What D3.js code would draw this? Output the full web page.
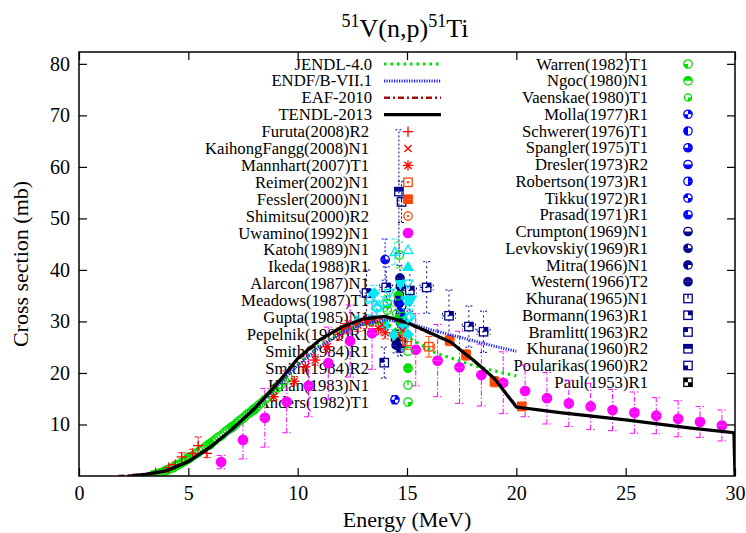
<!DOCTYPE html>
<html><head><meta charset="utf-8">
<script src="https://cdn.jsdelivr.net/npm/d3@7"></script>
<style>body{margin:0;background:#fff} svg text{font-family:"Liberation Serif","Times New Roman",Times,serif !important;fill:#000}</style>
</head><body><svg id="c" width="746" height="533" font-family="Liberation Serif, Times New Roman, serif"></svg>
<script>
// ---------- evaluated curves [E (MeV), sigma (mb)] ----------
const tendl = [[2.3,0],[3,0.3],[4,1.0],[5,2.8],[6,5.6],[7,9.1],[8,13.0],[9,17.6],[10,22.8],[11,26.4],[12,28.9],[13,30.5],[14,31.0],[15,29.8],[16,27.9],[17,26.0],[17.7,23.6],[18,22.6],[19,18.9],[20,13.4],[22,12.3],[25,10.9],[28,9.3],[29.95,8.4],[30,0]];
const jendl = [[3.2,0.2],[4,1.0],[5,2.9],[6,5.8],[7,9.0],[8,12.8],[9,17.0],[10,21.6],[11,25.4],[12,28.0],[13,29.4],[14,29.8],[15,27.0],[16.3,23.9],[18,21.5],[19,20.4],[20,19.4]];
const endf = [[2.5,0],[3,0.3],[4,1.1],[5,2.8],[6,5.6],[7,9.0],[8,12.9],[9,17.2],[10,21.5],[11,25.0],[12,27.8],[13,29.5],[14,30.3],[15,29.8],[16,28.5],[17,27.4],[18,26.3],[19,25.2],[20,24.2]];
const eaf = [[1.8,0],[2.2,0.1],[3,0.35],[4,1.1],[5,2.9],[6,5.7],[7,9.1],[8,13.0],[9,17.5],[10,22.5],[11,26.2],[12,28.8],[13,30.3],[14,30.8],[15,29.6],[16,27.8],[17,25.9],[18,22.7],[19,18.9],[20,13.6]];

// ---------- experimental data [E, sigma, dSigma, dE] ----------
const furuta = [[3.5,0.6,0.3],[4.1,1.6,0.4],[4.4,2.2,0.5],[4.7,3.7,0.8],[5.2,4.4,0.8],[5.45,5.9,1.7],[5.85,4.4,0.8]];
const kaihong = [[13.85,29.4,1.0],[14.8,28.2,1.0]];
const mannhart = [[8.9,15.4,0.8],[9.85,18.4,0.9],[10.35,21.2,1.0],[10.8,22.5,1.0],[11.35,25.1,1.1],[11.9,27.5,1.2],[12.1,28.6,1.0],[12.3,29.0,1.2],[12.75,29.3,1.2],[13.15,29.8,1.2],[13.45,30.1,1.0],[13.7,28.6,1.2],[14.0,27.8,1.2]];
const reimer = [[15.0,26.1,1.5,0.2],[16.0,25.1,2.0,0.25]];
const fessler = [[16.95,26.3,1.0],[17.7,23.5,1.0],[19.0,18.3,1.0],[20.25,13.5,0.8]];
const shimitsu = [[14.8,27.4,1.0]];
const uwamino = [[6.5,2.7,1.3],[7.5,7.0,3.7],[8.5,11.3,5.7],[9.5,14.4,6.0],[10.5,17.5,6.0],[11.4,21.9,7.0],[12.4,26.2,7.0],[13.4,27.7,7.0],[15.4,24.5,7.0],[16.4,22.4,7.0],[17.4,21.1,7.0],[18.4,19.6,6.0],[19.4,18.1,6.0],[20.4,16.5,5.0],[21.4,15.1,5.0],[22.4,14.1,4.5],[23.4,13.5,4.5],[24.4,12.8,4.0],[25.4,12.3,4.0],[26.4,11.7,3.5],[27.4,11.1,3.5],[28.4,10.5,3.0],[29.4,9.8,3.0]];
const katoh = [[13.3,34.5,1.0],[13.65,32.9,1.0],[13.95,33.8,1.0],[14.45,43.5,2.5]];
const ikeda = [[12.7,30.0,1.0],[13.3,30.3,1.0],[14.0,29.5,1.0]];
const alarcon = [[14.95,34.0,1.5],[14.2,35.5,1.5]];
const meadows = [[14.7,37.2,1.5],[15.2,34.2,1.2]];
const gupta = [[15.15,30.9,1.5],[13.6,32.6,1.5]];
const pepelnik = [[14.0,29.3,1.0],[14.4,27.4,1.0],[14.85,29.0,1.0],[13.5,35.5,1.5]];
const smith1 = [[3.40,0.2],[3.50,0.3],[3.60,0.4],[3.70,0.6],[3.80,0.7],[3.90,0.9],[4.00,1.1],[4.10,1.3],[4.20,1.5],[4.30,1.6],[4.40,1.9],[4.50,2.1],[4.60,2.3],[4.70,2.6],[4.80,2.8],[4.90,3.1],[5.00,3.3],[5.10,3.6],[5.20,3.9],[5.30,4.2],[5.40,4.4],[5.50,4.8],[5.60,5.1],[5.70,5.3],[5.80,5.7],[5.90,6.0],[6.00,6.3],[6.10,6.6],[6.20,6.9],[6.30,7.3],[6.40,7.6],[6.50,7.8],[6.60,8.2],[6.70,8.6],[6.80,8.9],[6.90,9.2],[7.00,9.6],[7.10,9.8],[7.20,10.2],[7.30,10.6],[7.40,10.9],[7.50,11.2],[7.60,11.6],[7.70,12.0],[7.80,12.2],[7.90,12.6],[8.00,13.0],[8.10,13.3],[8.20,13.7],[8.35,14.2],[8.50,14.8],[8.65,15.3],[8.80,15.9],[8.95,16.6],[9.10,17.2],[9.25,17.8],[9.40,18.5],[9.55,19.2]];
const smith2 = [[5.0,3.6],[6.0,6.1],[7.0,9.4],[8.0,12.8]];
const khan = [[14.65,42.9,2.5],[14.1,32.2,2.0]];
const anders = [[14.1,33.5,1.5],[14.8,31.0,1.5]];
const warren = [[14.7,30.0,1.5]];
const ngoc = [[14.6,35.0,1.5]];
const vaenskae = [[14.5,31.5,1.5]];
const molla = [[14.45,14.8,0.8]];
const schwerer = [[14.75,32.9,1.5]];
const spangler = [[14.7,31.5,1.5]];
const dresler = [[14.8,30.5,1.5]];
const robertson = [[14.6,33.8,1.5]];
const tikku = [[14.7,29.8,1.5]];
const prasad = [[14.0,42.0,4.0]];
const crumpton = [[14.7,36.8,2.0]];
const levkovskiy = [[14.65,35.1,2.0]];
const mitra = [[14.7,24.8,1.5],[14.5,25.4,1.5]];
const western = [[14.68,38.4,2.5],[14.65,33.5,2.0],[14.7,30.9,2.0]];
const khurana65 = [[14.75,53.2,4.0]];
const bormann = [[13.15,35.5,4.5,0.3],[14.05,36.6,4.0,0.3],[15.13,36.0,4.0,0.3],[15.9,36.6,5.0,0.3],[16.92,31.1,5.0,0.3],[17.83,29.0,4.0,0.3],[18.5,28.0,4.0,0.3]];
const bramlitt = [[13.96,22.0,3.0]];
const khurana60 = [[14.63,55.2,12.0]];
const poularikas = [[14.72,26.0,1.5]];
const paul = [[14.48,27.0,1.2]];

const xTicks = [0,5,10,15,20,25,30];
const yTicks = [10,20,30,40,50,60,70,80];

// ---------- styles ----------
const FONT = "Liberation Serif, Times New Roman, serif";
const RED="#ff0000", ORG="#ff4500", MAG="#ff00ff", CYA="#00e8f0", GRN="#00e000", BLU="#0000ff", NAV="#00008b", BLK="#000000";
const curves = [
  {name:"JENDL-4.0", data:jendl, color:"#00e000", w:3, dash:"2.5,4"},
  {name:"ENDF/B-VII.1", data:endf, color:"#2020ff", w:3, dash:"1.2,1.3"},
  {name:"EAF-2010", data:eaf, color:"#a01010", w:2.5, dash:"6,3,2,3"},
  {name:"TENDL-2013", data:tendl, color:"#000", w:3.2, dash:null}
];
const leftSets = [
  {name:"Furuta(2008)R2", data:furuta, c:RED, m:{s:"plus"}, ed:"3,2"},
  {name:"KaihongFangg(2008)N1", data:kaihong, c:RED, m:{s:"cross"}, ed:"3,2"},
  {name:"Mannhart(2007)T1", data:mannhart, c:RED, m:{s:"star"}, ed:"3,2"},
  {name:"Reimer(2002)N1", data:reimer, c:ORG, m:{s:"sq", dot:true}, ed:null},
  {name:"Fessler(2000)N1", data:fessler, c:ORG, m:{s:"sq", q:[0,1,2,3]}, ed:null},
  {name:"Shimitsu(2000)R2", data:shimitsu, c:ORG, m:{s:"ci", dot:true}, ed:null},
  {name:"Uwamino(1992)N1", data:uwamino, c:MAG, m:{s:"ci", q:[0,1,2,3], big:true}, ed:"5,2,1.5,2"},
  {name:"Katoh(1989)N1", data:katoh, c:CYA, m:{s:"tri"}, ed:"3,2"},
  {name:"Ikeda(1988)R1", data:ikeda, c:CYA, m:{s:"tri", fill:true}, ed:"3,2"},
  {name:"Alarcon(1987)N1", data:alarcon, c:CYA, m:{s:"itri"}, ed:"3,2"},
  {name:"Meadows(1987)T1", data:meadows, c:CYA, m:{s:"itri", fill:true}, ed:"3,2"},
  {name:"Gupta(1985)N1", data:gupta, c:CYA, m:{s:"dia"}, ed:"3,2"},
  {name:"Pepelnik(1985)R1", data:pepelnik, c:CYA, m:{s:"dia", fill:true}, ed:"3,2"},
  {name:"Smith(1984)R1", data:smith1, c:GRN, m:{s:"ci"}, ed:"3,2"},
  {name:"Smith(1984)R2", data:smith2, c:GRN, m:{s:"ci", q:[0,1,2,3]}, ed:"3,2"},
  {name:"Khan(1983)N1", data:khan, c:GRN, m:{s:"ci", tick:true}, ed:"3,2"},
  {name:"Anders(1982)T1", data:anders, c:GRN, m:{s:"ci", q:[1]}, ed:"3,2"}
];
const rightSets = [
  {name:"Warren(1982)T1", data:warren, c:GRN, m:{s:"ci", q:[2]}, ed:"3,2"},
  {name:"Ngoc(1980)N1", data:ngoc, c:GRN, m:{s:"ci", q:[3,0]}, ed:"3,2"},
  {name:"Vaenskae(1980)T1", data:vaenskae, c:GRN, m:{s:"ci", q:[1], small:true}, ed:"3,2"},
  {name:"Molla(1977)R1", data:molla, c:BLU, m:{s:"ci", q:[0,2]}, ed:"2,2"},
  {name:"Schwerer(1976)T1", data:schwerer, c:BLU, m:{s:"ci", q:[2,3]}, ed:"2,2"},
  {name:"Spangler(1975)T1", data:spangler, c:BLU, m:{s:"ci", q:[0,1,2]}, ed:"2,2"},
  {name:"Dresler(1973)R2", data:dresler, c:BLU, m:{s:"ci", q:[1,2]}, ed:"2,2"},
  {name:"Robertson(1973)R1", data:robertson, c:BLU, m:{s:"ci", q:[0,1]}, ed:"2,2"},
  {name:"Tikku(1972)R1", data:tikku, c:BLU, m:{s:"ci", q:[1,3]}, ed:"2,2"},
  {name:"Prasad(1971)R1", data:prasad, c:BLU, m:{s:"ci", q:[1,2,3]}, ed:"2,2"},
  {name:"Crumpton(1969)N1", data:crumpton, c:NAV, m:{s:"ci", q:[1,2]}, ed:"2,2"},
  {name:"Levkovskiy(1969)R1", data:levkovskiy, c:NAV, m:{s:"ci", q:[1,2,3]}, ed:"2,2"},
  {name:"Mitra(1966)N1", data:mitra, c:NAV, m:{s:"ci", q:[2,3,0]}, ed:"2,2"},
  {name:"Western(1966)T2", data:western, c:NAV, m:{s:"ci", q:[0,1,2,3]}, ed:"2,2"},
  {name:"Khurana(1965)N1", data:khurana65, c:NAV, m:{s:"sq", tick:true}, ed:"2,2"},
  {name:"Bormann(1963)R1", data:bormann, c:NAV, m:{s:"sq", q:[0]}, ed:"2,3"},
  {name:"Bramlitt(1963)R2", data:bramlitt, c:NAV, m:{s:"sq", q:[3]}, ed:"2,2"},
  {name:"Khurana(1960)R2", data:khurana60, c:NAV, m:{s:"sq", q:[3,0]}, ed:"2,2"},
  {name:"Poularikas(1960)R2", data:poularikas, c:NAV, m:{s:"sq", q:[2]}, ed:"2,2"},
  {name:"Paul(1953)R1", data:paul, c:BLK, m:{s:"sq", q:[3,1]}, ed:null}
];

// ---------- chart ----------
const svg = d3.select("#c");
const x = d3.scaleLinear().domain([0,30]).range([79,735]);
const y = d3.scaleLinear().domain([0,82.3]).range([476,52]);
const L=79,R=735,T=52,B=476;

svg.append("defs").append("clipPath").attr("id","clip").append("rect")
  .attr("x",L).attr("y",T).attr("width",R-L).attr("height",B-T);

// axes
const fs = 20;
const gx = svg.append("g").attr("transform",`translate(0,${B})`)
  .call(d3.axisBottom(x).tickValues(xTicks).tickFormat(d3.format("d")).tickSizeInner(-8).tickSizeOuter(0).tickPadding(10));
const gy = svg.append("g").attr("transform",`translate(${L},0)`)
  .call(d3.axisLeft(y).tickValues(yTicks).tickFormat(d3.format("d")).tickSizeInner(-8).tickSizeOuter(0).tickPadding(9));
const gt = svg.append("g").attr("transform",`translate(0,${T})`)
  .call(d3.axisTop(x).tickValues(xTicks).tickFormat("").tickSizeInner(-8).tickSizeOuter(0));
const gr = svg.append("g").attr("transform",`translate(${R},0)`)
  .call(d3.axisRight(y).tickValues(yTicks).tickFormat("").tickSizeInner(-8).tickSizeOuter(0));
[gx,gy,gt,gr].forEach(g=>{
  g.attr("font-family",FONT).attr("font-size",fs);
  g.selectAll(".domain").remove();
  g.selectAll(".tick line").attr("stroke","#000").attr("stroke-width",1.2);
  g.selectAll(".tick text").attr("font-family",FONT).attr("font-size",fs).attr("fill","#000");
});

// titles
const title = svg.append("text").attr("x",405).attr("y",37).attr("text-anchor","middle").attr("font-size",26).attr("font-family",FONT);
title.append("tspan").attr("font-size",18).attr("dy",-10).text("51");
title.append("tspan").attr("dy",10).text("V(n,p)");
title.append("tspan").attr("font-size",18).attr("dy",-10).text("51");
title.append("tspan").attr("dy",10).text("Ti");
svg.append("text").attr("x",407).attr("y",527).attr("text-anchor","middle").attr("font-size",22).attr("font-family",FONT).text("Energy (MeV)");
svg.append("text").attr("transform","translate(28,264) rotate(-90)").attr("text-anchor","middle").attr("font-size",22).attr("font-family",FONT).text("Cross section (mb)");

// legend text (behind data)
const lx0=372, rowL=16.9, rowR=16.75, y0=64;
const leg = svg.append("g").attr("font-size",16.7).attr("font-family",FONT);
curves.forEach((c,i)=>{
  leg.append("text").attr("x",lx0).attr("y",y0+i*rowL).attr("dy","0.33em").attr("text-anchor","end").text(c.name);
});
leftSets.forEach((s,i)=>{
  leg.append("text").attr("x",369).attr("y",y0+(i+4)*rowL).attr("dy","0.33em").attr("text-anchor","end").text(s.name);
});
rightSets.forEach((s,i)=>{
  leg.append("text").attr("x",648).attr("y",y0+i*rowR).attr("dy","0.33em").attr("text-anchor","end").text(s.name);
});

// marker painter
function drawMarker(g, m, c, cx, cy){
  const r = m.small?3.6:(m.big?4.7:4.2), sw=1.3;
  if(m.s==="plus"||m.s==="star"){
    g.append("line").attr("x1",cx-r-1).attr("x2",cx+r+1).attr("y1",cy).attr("y2",cy).attr("stroke",c).attr("stroke-width",sw);
    g.append("line").attr("x1",cx).attr("x2",cx).attr("y1",cy-r-1).attr("y2",cy+r+1).attr("stroke",c).attr("stroke-width",sw);
  }
  if(m.s==="cross"||m.s==="star"){
    const k=r*0.85;
    g.append("line").attr("x1",cx-k).attr("x2",cx+k).attr("y1",cy-k).attr("y2",cy+k).attr("stroke",c).attr("stroke-width",sw);
    g.append("line").attr("x1",cx-k).attr("x2",cx+k).attr("y1",cy+k).attr("y2",cy-k).attr("stroke",c).attr("stroke-width",sw);
  }
  if(m.s==="ci"){
    g.append("circle").attr("cx",cx).attr("cy",cy).attr("r",r).attr("fill","none").attr("stroke",c).attr("stroke-width",sw);
    (m.q||[]).forEach(q=>{
      g.append("path").attr("transform",`translate(${cx},${cy})`)
        .attr("d",d3.arc()({innerRadius:0,outerRadius:r,startAngle:q*Math.PI/2,endAngle:(q+1)*Math.PI/2})).attr("fill",c);
    });
  }
  if(m.s==="sq"){
    g.append("rect").attr("x",cx-r).attr("y",cy-r).attr("width",2*r).attr("height",2*r).attr("fill","none").attr("stroke",c).attr("stroke-width",sw);
    const off=[[0,-r],[0,0],[-r,0],[-r,-r]];
    (m.q||[]).forEach(q=>{
      g.append("rect").attr("x",cx+off[q][0]).attr("y",cy+off[q][1]).attr("width",r).attr("height",r).attr("fill",c);
    });
  }
  if(m.s==="tri"||m.s==="itri"){
    const sgn = m.s==="tri"?1:-1, h=r*1.15;
    const pts=[[cx,cy-sgn*h],[cx+h,cy+sgn*h*0.75],[cx-h,cy+sgn*h*0.75]];
    g.append("polygon").attr("points",pts.map(p=>p.join(",")).join(" ")).attr("fill",m.fill?c:"none").attr("stroke",c).attr("stroke-width",sw);
  }
  if(m.s==="dia"){
    const h=r*1.2;
    const pts=[[cx,cy-h],[cx+h,cy],[cx,cy+h],[cx-h,cy]];
    g.append("polygon").attr("points",pts.map(p=>p.join(",")).join(" ")).attr("fill",m.fill?c:"none").attr("stroke",c).attr("stroke-width",sw);
  }
  if(m.dot) g.append("circle").attr("cx",cx).attr("cy",cy).attr("r",1.2).attr("fill",c);
  if(m.tick) g.append("line").attr("x1",cx).attr("x2",cx).attr("y1",cy-r).attr("y2",cy).attr("stroke",c).attr("stroke-width",sw);
}

const plot = svg.append("g").attr("clip-path","url(#clip)");
const allSets = leftSets.concat(rightSets);

// error bars
allSets.forEach(s=>{
  const g = plot.append("g").attr("stroke",s.c).attr("stroke-width",1).attr("stroke-dasharray",s.ed||null);
  const cw = s.m.big?4.5:3.5;
  s.data.forEach(d=>{
    if(d[2]){
      const cx=x(d[0]), y1=y(d[1]-d[2]), y2=y(d[1]+d[2]);
      g.append("line").attr("x1",cx).attr("x2",cx).attr("y1",y1).attr("y2",y2);
      g.append("line").attr("x1",cx-cw).attr("x2",cx+cw).attr("y1",y1).attr("y2",y1).attr("stroke-dasharray",null);
      g.append("line").attr("x1",cx-cw).attr("x2",cx+cw).attr("y1",y2).attr("y2",y2).attr("stroke-dasharray",null);
    }
    if(d[3]){
      const cy=y(d[1]), x1=x(d[0]-d[3]), x2=x(d[0]+d[3]);
      g.append("line").attr("x1",x1).attr("x2",x2).attr("y1",cy).attr("y2",cy);
      g.append("line").attr("x1",x1).attr("x2",x1).attr("y1",cy-3).attr("y2",cy+3).attr("stroke-dasharray",null);
      g.append("line").attr("x1",x2).attr("x2",x2).attr("y1",cy-3).attr("y2",cy+3).attr("stroke-dasharray",null);
    }
  });
});

// markers
allSets.slice().reverse().forEach(s=>{
  const g = plot.append("g");
  s.data.forEach(d=>drawMarker(g, s.m, s.c, x(d[0]), y(d[1])));
});

// evaluated curves
const line = d3.line().x(d=>x(d[0])).y(d=>y(d[1]));
curves.forEach(c=>{
  plot.append("path").attr("d",line(c.data)).attr("fill","none").attr("stroke",c.color)
    .attr("stroke-width",c.w).attr("stroke-dasharray",c.dash);
});

// legend samples and symbols
curves.forEach((c,i)=>{
  svg.append("line").attr("x1",384).attr("x2",441).attr("y1",y0+i*rowL).attr("y2",y0+i*rowL)
    .attr("stroke",c.color).attr("stroke-width",c.w).attr("stroke-dasharray",c.dash);
});
leftSets.forEach((s,i)=>drawMarker(svg.append("g"), s.m, s.c, 408, y0+(i+4)*rowL));
rightSets.forEach((s,i)=>drawMarker(svg.append("g"), s.m, s.c, 688, y0+i*rowR));

// frame
svg.append("rect").attr("x",L).attr("y",T).attr("width",R-L).attr("height",B-T).attr("fill","none").attr("stroke","#000").attr("stroke-width",1.5);
</script></body></html>
